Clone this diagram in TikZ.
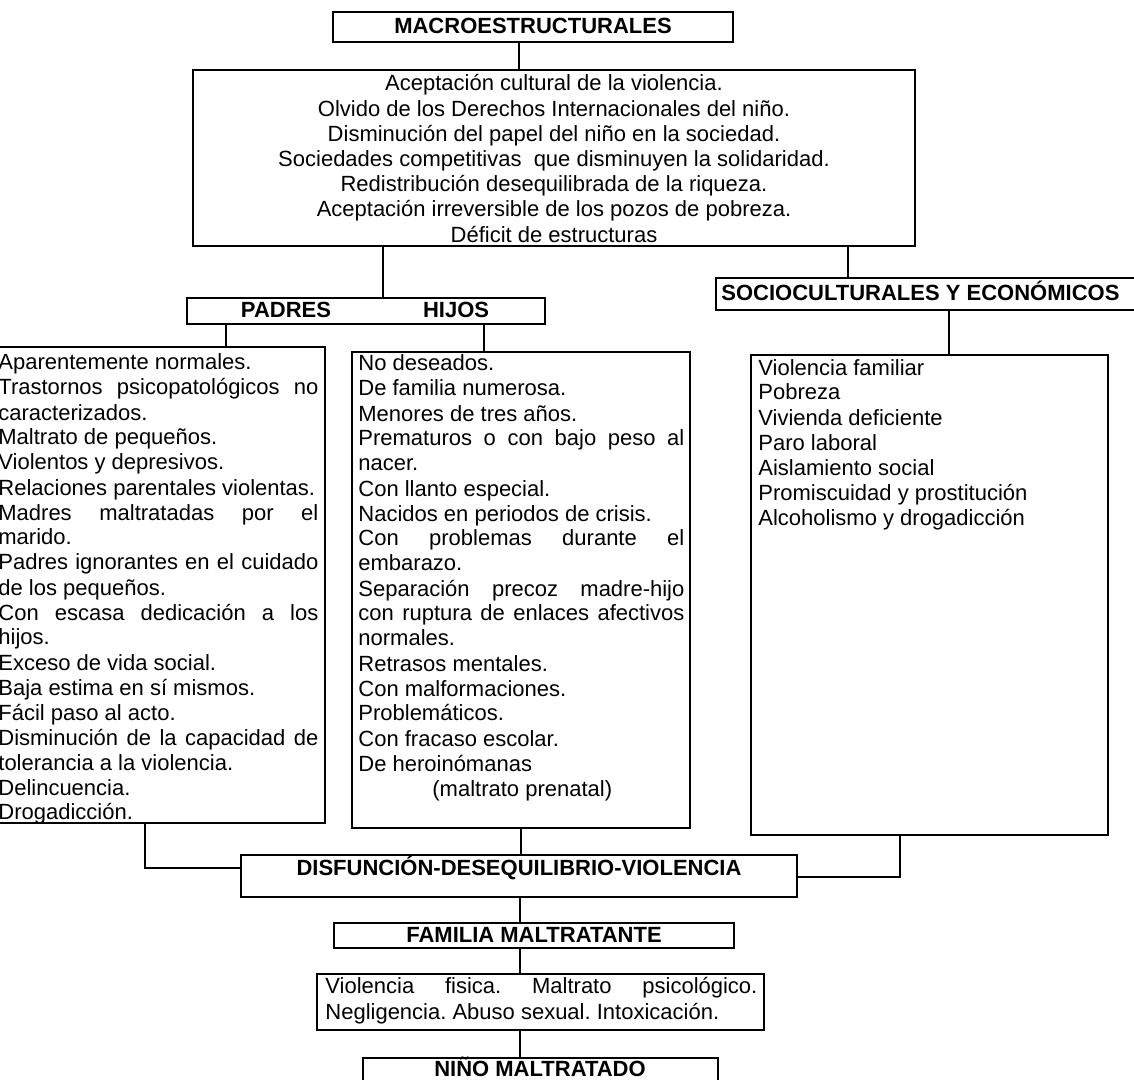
\documentclass[tikz,border=0pt]{standalone}
\usepackage{fontspec}
\setmainfont{Liberation Sans}
\usetikzlibrary{fit}
\frenchspacing
\lineskiplimit=-20pt
\begin{document}
\begin{tikzpicture}[x=0.5pt,y=-0.5pt,
  boxa/.style={draw, line width=1pt, inner sep=0pt},
  body/.style={inner sep=0pt, font=\fontsize{11}{12.5}\selectfont},
  head/.style={inner sep=0pt, font=\fontsize{11}{12.5}\selectfont\bfseries},
  conn/.style={line width=1pt}]
\fill[white] (0,0) rectangle (1134,1080);
\useasboundingbox (0,0) rectangle (1134,1080);

% boxes
\node[boxa, fit={(333,12)(733,42)}] (macro) {};
\node[head, anchor=base] (macrot) at (533,34) {MACROESTRUCTURALES};

\node[boxa, fit={(193,70)(915,246)}] (big) {};
\node[body, anchor=base] (bigt) at (554,91) {\parbox[t]{350pt}{\centering\fontsize{11}{12.6}\selectfont\lineskiplimit=-20pt
Aceptación cultural de la violencia.\\
Olvido de los Derechos Internacionales del niño.\\
Disminución del papel del niño en la sociedad.\\
Sociedades competitivas\ \ que disminuyen la solidaridad.\\
Redistribución desequilibrada de la riqueza.\\
Aceptación irreversible de los pozos de pobreza.\\
Déficit de estructuras}};

\node[boxa, fit={(187,298)(545,324)}] (ph) {};
\node[head, anchor=base] (pht) at (365,318) {PADRES\hspace{46pt}HIJOS};

\node[boxa, fit={(716,278)(1145,310)}] (socio) {};
\node[head, anchor=base west] (sociot) at (721,301) {SOCIOCULTURALES Y ECONÓMICOS};

\node[boxa, fit={(-6,347)(325,823)}] (lbox) {};
\node[body, anchor=base west] (ltext) at (-2,370) {\parbox[t]{160pt}{\lineskiplimit=-20pt\tolerance=10000\hbadness=10000\hyphenpenalty=10000
Aparentemente normales.\\
Trastornos psicopatológicos no\linebreak
caracterizados.\\
Maltrato de pequeños.\\
Violentos y depresivos.\\
Relaciones parentales violentas.\\
Madres maltratadas por el\linebreak
marido.\\
Padres ignorantes en el cuidado\linebreak
de los pequeños.\\
Con escasa dedicación a los\linebreak
hijos.\\
Exceso de vida social.\\
Baja estima en sí mismos.\\
Fácil paso al acto.\\
Disminución de la capacidad de\linebreak
tolerancia a la violencia.\\
Delincuencia.\\
Drogadicción.}};

\node[boxa, fit={(352,352)(690,828)}] (mbox) {};
\node[body, anchor=base west] (mtext) at (358,371) {\parbox[t]{163pt}{\lineskiplimit=-20pt\tolerance=10000\hbadness=10000\hyphenpenalty=10000
No deseados.\\
De familia numerosa.\\
Menores de tres años.\\
Prematuros o con bajo peso al\linebreak
nacer.\\
Con llanto especial.\\
Nacidos en periodos de crisis.\\
Con problemas durante el\linebreak
embarazo.\\
Separación precoz madre-hijo\linebreak
con ruptura de enlaces afectivos\linebreak
normales.\\
Retrasos mentales.\\
Con malformaciones.\\
Problemáticos.\\
Con fracaso escolar.\\
De heroinómanas\\
\hspace*{37pt}(maltrato prenatal)}};

\node[boxa, fit={(751,355)(1108,835)}] (rbox) {};
\node[body, anchor=base west] (rtext) at (758,375) {\parbox[t]{170pt}{\raggedright\lineskiplimit=-20pt
Violencia familiar\\
Pobreza\\
Vivienda deficiente\\
Paro laboral\\
Aislamiento social\\
Promiscuidad y prostitución\\
Alcoholismo y drogadicción}};

\node[boxa, fit={(241,855)(797,897)}] (disf) {};
\node[head, anchor=base] (disft) at (519,875) {DISFUNCIÓN-DESEQUILIBRIO-VIOLENCIA};

\node[boxa, fit={(334,923)(734,948)}] (fam) {};
\node[head, anchor=base] (famt) at (534,942) {FAMILIA MALTRATANTE};

\node[boxa, fit={(317,974)(764,1030)}] (viol) {};
\node[body, anchor=base west] (violt) at (325,993) {\parbox[t]{216pt}{\fontsize{11}{13}\selectfont\lineskiplimit=-20pt\tolerance=10000\hbadness=10000\hyphenpenalty=10000
Violencia fisica. Maltrato psicológico.\linebreak
Negligencia. Abuso sexual. Intoxicación.}};

\node[boxa, fit={(363,1058)(718,1100)}] (nino) {};
\node[head, anchor=base] (ninot) at (540,1076) {NIÑO MALTRATADO};

% connectors
\coordinate (c1) at (519,0);
\coordinate (c2) at (383,0);
\coordinate (c3) at (848,0);
\coordinate (c4) at (226,0);
\coordinate (c5) at (484,0);
\coordinate (c6) at (949,0);
\coordinate (c7) at (521,0);
\coordinate (c8) at (520,0);
\coordinate (jl) at (145,868);
\coordinate (jr) at (900,877);

\draw[conn] (macro.south -| c1) -- (big.north -| c1);
\draw[conn] (big.south -| c2) -- (ph.north -| c2);
\draw[conn] (big.south -| c3) -- (socio.north -| c3);
\draw[conn] (ph.south -| c4) -- (lbox.north -| c4);
\draw[conn] (ph.south -| c5) -- (mbox.north -| c5);
\draw[conn] (socio.south -| c6) -- (rbox.north -| c6);
\draw[conn] (lbox.south -| jl) -- (jl) -- (disf.west |- jl);
\draw[conn] (mbox.south -| c7) -- (disf.north -| c7);
\draw[conn] (rbox.south -| jr) -- (jr) -- (disf.east |- jr);
\draw[conn] (disf.south -| c8) -- (fam.north -| c8);
\draw[conn] (fam.south -| c8) -- (viol.north -| c8);
\draw[conn] (viol.south -| c8) -- (nino.north -| c8);
\end{tikzpicture}
\end{document}
